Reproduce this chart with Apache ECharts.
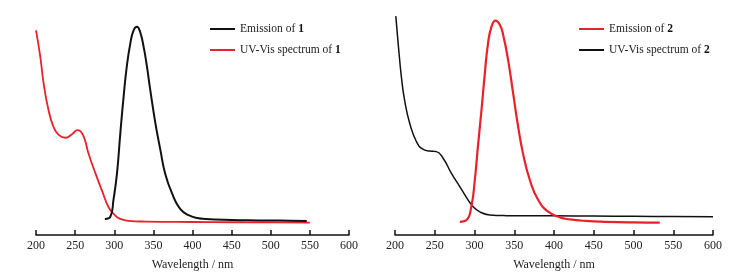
<!DOCTYPE html>
<html>
<head>
<meta charset="utf-8">
<script src="https://cdn.jsdelivr.net/npm/echarts@6/dist/echarts.min.js"></script>
<style>
  html, body { margin: 0; padding: 0; background: #fff; }
  #chart { width: 745px; height: 278px; }
</style>
</head>
<body>
<div id="chart"></div>
<script>
// x axis ticks (nm)
const xTicks = [200, 250, 300, 350, 400, 450, 500, 550, 600];

// compound 1: emission (black)
const em1X = [288, 295, 299, 303.5, 307.7, 312, 316, 320.5, 324.7, 329, 333, 337.5, 341.8, 346, 352.5, 359, 365, 373.8, 384, 395, 408, 416, 440, 470, 500, 525, 546];
const em1Y = [0.073, 0.083, 0.16, 0.28, 0.46, 0.63, 0.765, 0.87, 0.93, 0.947, 0.924, 0.856, 0.765, 0.66, 0.51, 0.386, 0.28, 0.19, 0.12, 0.09, 0.076, 0.073, 0.069, 0.067, 0.066, 0.065, 0.064];

// compound 1: UV-Vis (red)
const uv1X = [200, 205.5, 209.7, 216, 222.5, 229, 237.5, 246, 253, 260, 267, 276, 284, 293, 301, 307.7, 318, 340, 400, 450, 500, 550];
const uv1Y = [0.93, 0.81, 0.69, 0.568, 0.49, 0.455, 0.442, 0.458, 0.477, 0.455, 0.372, 0.28, 0.205, 0.125, 0.09, 0.073, 0.064, 0.061, 0.059, 0.058, 0.057, 0.056];

// compound 2: emission (red)
const em2X = [281.5, 290, 296, 300.4, 304.5, 308.8, 313, 317, 321.4, 326.4, 332, 336, 342.3, 348.6, 355, 361, 369.6, 380, 392.7, 407.4, 420, 440, 464, 500, 533];
const em2Y = [0.06, 0.068, 0.129, 0.25, 0.41, 0.568, 0.735, 0.87, 0.947, 0.974, 0.955, 0.91, 0.795, 0.644, 0.49, 0.371, 0.25, 0.16, 0.106, 0.08, 0.071, 0.064, 0.06, 0.057, 0.056];

// compound 2: UV-Vis (black)
const uv2X = [201, 204, 208, 212, 218.5, 227, 235, 243.7, 252, 260.5, 271, 281.5, 290, 298, 306.7, 319, 340, 400, 450, 500, 550, 600];
const uv2Y = [0.995, 0.87, 0.72, 0.614, 0.508, 0.424, 0.39, 0.382, 0.379, 0.349, 0.28, 0.22, 0.17, 0.13, 0.105, 0.091, 0.088, 0.087, 0.086, 0.085, 0.084, 0.083];

const pairs = (xs, ys) => xs.map((x, i) => [x, ys[i]]);

const serif = '"Liberation Serif", "DejaVu Serif", serif';
const RED = '#e8212b';
const BLACK = '#111111';

const chart = echarts.init(document.getElementById('chart'));

function makeXAxis(gridIndex) {
    return {
        type: 'value',
        gridIndex: gridIndex,
        min: 200,
        max: 600,
        interval: 50,
        name: 'Wavelength / nm',
        nameLocation: 'middle',
        nameGap: 24,
        nameTextStyle: { fontFamily: serif, fontSize: 12, color: '#222' },
        axisLine: { show: true, lineStyle: { color: '#111', width: 1.5 } },
        axisTick: { show: true, inside: true, length: 5, lineStyle: { color: '#111', width: 1.5 } },
        axisLabel: {
            fontFamily: serif,
            fontSize: 12,
            color: '#222',
            margin: 5,
            formatter: v => (xTicks.indexOf(v) >= 0 ? String(v) : '')
        },
        splitLine: { show: false }
    };
}

function makeYAxis(gridIndex) {
    return {
        type: 'value',
        gridIndex: gridIndex,
        min: 0,
        max: 1,
        show: false
    };
}

function makeLegend(left, names) {
    return {
        left: left,
        top: 18,
        orient: 'vertical',
        icon: 'rect',
        itemWidth: 25,
        itemHeight: 2,
        itemGap: 9,
        data: names,
        formatter: name => '{n|' + name.slice(0, -1) + '}{b|' + name.slice(-1) + '}',
        textStyle: {
            rich: {
                n: { fontFamily: serif, fontSize: 11.5, color: '#222' },
                b: { fontFamily: serif, fontSize: 11.5, color: '#111', fontWeight: 'bold' }
            }
        }
    };
}

function line(name, data, color, width, axisIndex) {
    return {
        name: name,
        type: 'line',
        xAxisIndex: axisIndex,
        yAxisIndex: axisIndex,
        data: data,
        symbol: 'none',
        smooth: 0.5,
        lineStyle: { color: color, width: width },
        itemStyle: { color: color },
        z: width > 1.8 ? 3 : 2
    };
}

const option = {
    animation: false,
    backgroundColor: '#fff',
    grid: [
        { left: 36, width: 313, top: 15, bottom: 43 },
        { left: 395, width: 318, top: 15, bottom: 43 }
    ],
    xAxis: [makeXAxis(0), makeXAxis(1)],
    yAxis: [makeYAxis(0), makeYAxis(1)],
    legend: [
        makeLegend(205, ['Emission of 1', 'UV-Vis spectrum of 1']),
        makeLegend(574, ['Emission of 2', 'UV-Vis spectrum of 2'])
    ],
    series: [
        line('Emission of 1', pairs(em1X, em1Y), BLACK, 2, 0),
        line('UV-Vis spectrum of 1', pairs(uv1X, uv1Y), RED, 1.8, 0),
        line('Emission of 2', pairs(em2X, em2Y), RED, 2.2, 1),
        line('UV-Vis spectrum of 2', pairs(uv2X, uv2Y), BLACK, 1.5, 1)
    ]
};

chart.setOption(option);
</script>
</body>
</html>
